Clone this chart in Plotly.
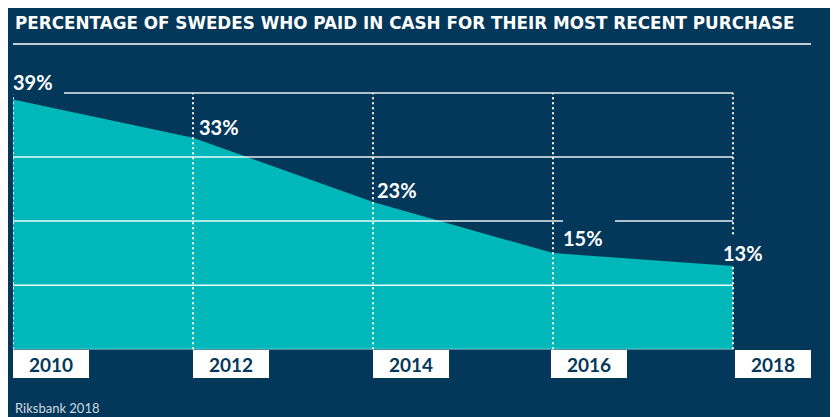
import plotly.graph_objects as go

# ---- data ----
years = [2010, 2012, 2014, 2016, 2018]
cash_share = [39, 33, 23, 15, 13]
gridline_levels = [10, 20, 30, 40]
title_text = "PERCENTAGE OF SWEDES WHO PAID IN CASH FOR THEIR MOST RECENT PURCHASE"
source_text = "Riksbank 2018"

# ---- styles ----
NAVY = "#03385A"
TEAL = "#00B8B9"
WHITE = "#FFFFFF"

# value-label box styling (offsets in px from the data point)
label_xshift = [0, 6, 4, 10, -10]
label_yshift = [5, -1, 0, 3, 1]
label_box_w = [51, 45, 45, 52, 43]
label_box_h = [22, 24, 24, 30, 30]
year_box_xshift = [0, 0, 0, -2, 2]

fig = go.Figure()

fig.add_trace(go.Scatter(
    x=years, y=cash_share, mode="lines", fill="tozeroy",
    fillcolor=TEAL, line=dict(width=0, color=TEAL), hoverinfo="skip",
    showlegend=False,
))

shapes = []
# horizontal gridlines (above the area)
for lvl in gridline_levels:
    shapes.append(dict(type="line", xref="x", yref="y", x0=years[0], x1=years[-1],
                       y0=lvl, y1=lvl, layer="above",
                       line=dict(color="rgba(255,255,255,0.92)", width=1.5)))
# baseline
shapes.append(dict(type="line", xref="x", yref="y", x0=years[0], x1=years[-1],
                   y0=0, y1=0, layer="above",
                   line=dict(color="rgba(255,255,255,0.45)", width=1)))
# dotted verticals
for yr in years:
    shapes.append(dict(type="line", xref="x", yref="y", x0=yr, x1=yr,
                       y0=0, y1=max(gridline_levels), layer="above",
                       line=dict(color=WHITE, width=2, dash="2px,3px")))
# title underline
shapes.append(dict(type="line", xref="paper", yref="paper", x0=0, x1=0.9975,
                   y0=1.0536, y1=1.0536,
                   line=dict(color=WHITE, width=1.5)))

annotations = []
# value labels
for i, (yr, v) in enumerate(zip(years, cash_share)):
    annotations.append(dict(
        x=yr, y=v, xref="x", yref="y", text=f"{v}%", showarrow=False,
        xanchor="left", yanchor="bottom", xshift=label_xshift[i], yshift=label_yshift[i],
        width=label_box_w[i], height=label_box_h[i], align="left", valign="bottom",
        bgcolor=NAVY, borderpad=0, borderwidth=0,
        font=dict(family="Lato", size=20, color=WHITE, weight="bold"),
    ))
# year boxes
for i, yr in enumerate(years):
    annotations.append(dict(
        x=yr, y=0, xref="x", yref="y", text=str(yr), showarrow=False,
        xanchor="left", yanchor="top", xshift=year_box_xshift[i], yshift=-1,
        width=76, height=28, align="center", valign="middle",
        bgcolor=WHITE, borderpad=0, borderwidth=0,
        font=dict(family="Lato", size=19, color=NAVY, weight="bold"),
    ))
# title
annotations.append(dict(
    x=0, y=1.12, xref="paper", yref="paper", text=title_text, showarrow=False,
    xanchor="left", yanchor="middle",
    font=dict(family="DejaVu Sans", size=16.8, color=WHITE, weight="bold"),
))
# source
annotations.append(dict(
    x=0, y=-0.063, xref="paper", yref="paper", text=source_text, showarrow=False,
    xanchor="left", yanchor="top",
    font=dict(family="Lato", size=13, color="#D0D8E0"),
))

fig.update_layout(
    width=838, height=417,
    margin=dict(l=5, r=33, t=53, b=47),
    paper_bgcolor=NAVY, plot_bgcolor=NAVY,
    xaxis=dict(range=[2010, 2010 + 800 / 90], visible=False, fixedrange=True),
    yaxis=dict(range=[-4.5, 45], visible=False, fixedrange=True),
    shapes=shapes, annotations=annotations,
    showlegend=False,
)

fig.write_html("out.html")
